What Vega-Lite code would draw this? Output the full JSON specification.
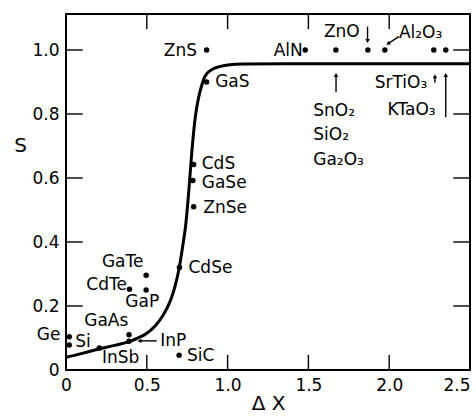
{
  "$schema": "https://vega.github.io/schema/vega-lite/v6.json",
  "width": 404,
  "height": 356,
  "autosize": {"type": "none"},
  "padding": {"left": 66, "top": 14, "right": 6, "bottom": 48},
  "background": "white",
  "config": {
    "view": {"stroke": "black", "strokeWidth": 2},
    "font": "DejaVu Sans",
    "axis": {
      "domain": false, "grid": false, "ticks": false,
      "labelPadding": 7, "labelFont": "DejaVu Sans", "labelFontSize": 17, "labelColor": "black",
      "labelFlush": false, "labelOverlap": false,
      "titleFont": "DejaVu Sans", "titleFontSize": 20, "titleFontWeight": "normal", "titleColor": "black"
    },
    "text": {"font": "DejaVu Sans", "fontSize": 17, "color": "black", "baseline": "middle"}
  },
  "datasets": {
    "curve": [
      {"dX": 0.0, "S": 0.040}, {"dX": 0.1, "S": 0.052}, {"dX": 0.2, "S": 0.065}, {"dX": 0.3, "S": 0.077},
      {"dX": 0.4, "S": 0.090}, {"dX": 0.45, "S": 0.101}, {"dX": 0.5, "S": 0.115}, {"dX": 0.55, "S": 0.137},
      {"dX": 0.6, "S": 0.170}, {"dX": 0.65, "S": 0.222}, {"dX": 0.675, "S": 0.262}, {"dX": 0.70, "S": 0.318},
      {"dX": 0.72, "S": 0.38}, {"dX": 0.74, "S": 0.45}, {"dX": 0.76, "S": 0.56}, {"dX": 0.78, "S": 0.69},
      {"dX": 0.80, "S": 0.79}, {"dX": 0.82, "S": 0.85}, {"dX": 0.84, "S": 0.89}, {"dX": 0.86, "S": 0.918},
      {"dX": 0.90, "S": 0.938}, {"dX": 0.95, "S": 0.948}, {"dX": 1.0, "S": 0.953}, {"dX": 1.1, "S": 0.956},
      {"dX": 1.5, "S": 0.957}, {"dX": 2.5, "S": 0.957}
    ],
    "compounds": [
      {"name": "Ge", "dX": 0.02, "S": 0.104}, {"name": "Si", "dX": 0.02, "S": 0.078},
      {"name": "InSb", "dX": 0.206, "S": 0.069}, {"name": "GaAs", "dX": 0.39, "S": 0.11},
      {"name": "InP", "dX": 0.39, "S": 0.09}, {"name": "CdTe", "dX": 0.393, "S": 0.252},
      {"name": "GaTe", "dX": 0.496, "S": 0.296}, {"name": "GaP", "dX": 0.496, "S": 0.25},
      {"name": "CdSe", "dX": 0.702, "S": 0.32}, {"name": "SiC", "dX": 0.70, "S": 0.046},
      {"name": "ZnSe", "dX": 0.79, "S": 0.51}, {"name": "GaSe", "dX": 0.785, "S": 0.592},
      {"name": "CdS", "dX": 0.79, "S": 0.642}, {"name": "GaS", "dX": 0.87, "S": 0.90},
      {"name": "ZnS", "dX": 0.87, "S": 1.0}, {"name": "AlN", "dX": 1.48, "S": 1.0},
      {"name": "SnO₂, SiO₂, Ga₂O₃", "dX": 1.67, "S": 1.0}, {"name": "ZnO", "dX": 1.868, "S": 1.0},
      {"name": "Al₂O₃", "dX": 1.973, "S": 1.0}, {"name": "SrTiO₃", "dX": 2.276, "S": 1.0},
      {"name": "KTaO₃", "dX": 2.35, "S": 1.0}
    ],
    "labelsEnd": [
      {"label": "ZnS", "dX": 0.811, "S": 0.997}, {"label": "AlN", "dX": 1.465, "S": 0.997},
      {"label": "CdTe", "dX": 0.377, "S": 0.266}, {"label": "Ge", "dX": -0.035, "S": 0.109}
    ],
    "labelsStart": [
      {"label": "GaS", "dX": 0.923, "S": 0.90}, {"label": "CdS", "dX": 0.84, "S": 0.643},
      {"label": "GaSe", "dX": 0.84, "S": 0.585}, {"label": "ZnSe", "dX": 0.85, "S": 0.505},
      {"label": "CdSe", "dX": 0.758, "S": 0.318}, {"label": "SiC", "dX": 0.748, "S": 0.044},
      {"label": "InP", "dX": 0.583, "S": 0.092}, {"label": "InSb", "dX": 0.222, "S": 0.037},
      {"label": "GaAs", "dX": 0.113, "S": 0.153}, {"label": "GaP", "dX": 0.367, "S": 0.212},
      {"label": "GaTe", "dX": 0.222, "S": 0.338}, {"label": "Si", "dX": 0.057, "S": 0.088},
      {"label": "ZnO", "dX": 1.596, "S": 1.057}, {"label": "Al₂O₃", "dX": 2.06, "S": 1.053},
      {"label": "SnO₂", "dX": 1.53, "S": 0.81}, {"label": "SiO₂", "dX": 1.53, "S": 0.734},
      {"label": "Ga₂O₃", "dX": 1.53, "S": 0.656}, {"label": "SrTiO₃", "dX": 1.91, "S": 0.896},
      {"label": "KTaO₃", "dX": 1.99, "S": 0.812}
    ],
    "segments": [
      {"for": "ZnO", "x1": 1.866, "y1": 1.073, "x2": 1.866, "y2": 1.028, "dir": "down"},
      {"for": "Al2O3", "x1": 2.06, "y1": 1.042, "x2": 1.993, "y2": 1.02, "dir": "downleft"},
      {"for": "SnO2", "x1": 1.671, "y1": 0.869, "x2": 1.671, "y2": 0.922, "dir": "up"},
      {"for": "SrTiO3", "x1": 2.283, "y1": 0.898, "x2": 2.283, "y2": 0.918, "dir": "up"},
      {"for": "KTaO3", "x1": 2.35, "y1": 0.79, "x2": 2.35, "y2": 0.922, "dir": "up"},
      {"for": "InP", "x1": 0.562, "y1": 0.091, "x2": 0.455, "y2": 0.091, "dir": "left"},
      {"for": "tick", "x1": 0.5, "y1": 0.001, "x2": 0.5, "y2": 0.047, "dir": "none"},
      {"for": "tick", "x1": 1.0, "y1": 0.001, "x2": 1.0, "y2": 0.047, "dir": "none"},
      {"for": "tick", "x1": 1.5, "y1": 0.001, "x2": 1.5, "y2": 0.047, "dir": "none"},
      {"for": "tick", "x1": 2.0, "y1": 0.001, "x2": 2.0, "y2": 0.047, "dir": "none"},
      {"for": "tick", "x1": 0.5, "y1": 1.111, "x2": 0.5, "y2": 1.0655, "dir": "none"},
      {"for": "tick", "x1": 1.0, "y1": 1.111, "x2": 1.0, "y2": 1.0655, "dir": "none"},
      {"for": "tick", "x1": 1.5, "y1": 1.111, "x2": 1.5, "y2": 1.0655, "dir": "none"},
      {"for": "tick", "x1": 2.0, "y1": 1.111, "x2": 2.0, "y2": 1.0655, "dir": "none"},
      {"for": "tick", "x1": 0.001, "y1": 0.2, "x2": 0.104, "y2": 0.2, "dir": "none"},
      {"for": "tick", "x1": 0.001, "y1": 0.4, "x2": 0.104, "y2": 0.4, "dir": "none"},
      {"for": "tick", "x1": 0.001, "y1": 0.6, "x2": 0.104, "y2": 0.6, "dir": "none"},
      {"for": "tick", "x1": 0.001, "y1": 0.8, "x2": 0.104, "y2": 0.8, "dir": "none"},
      {"for": "tick", "x1": 0.001, "y1": 1.0, "x2": 0.104, "y2": 1.0, "dir": "none"},
      {"for": "tick", "x1": 2.396, "y1": 0.2, "x2": 2.499, "y2": 0.2, "dir": "none"},
      {"for": "tick", "x1": 2.396, "y1": 0.4, "x2": 2.499, "y2": 0.4, "dir": "none"},
      {"for": "tick", "x1": 2.396, "y1": 0.6, "x2": 2.499, "y2": 0.6, "dir": "none"},
      {"for": "tick", "x1": 2.396, "y1": 0.8, "x2": 2.499, "y2": 0.8, "dir": "none"},
      {"for": "tick", "x1": 2.396, "y1": 1.0, "x2": 2.499, "y2": 1.0, "dir": "none"}
    ]
  },
  "layer": [
    {
      "data": {"name": "curve"},
      "mark": {"type": "line", "color": "black", "strokeWidth": 3, "interpolate": "monotone"},
      "encoding": {
        "x": {"field": "dX", "type": "quantitative", "scale": {"domain": [0, 2.5], "nice": false, "zero": false},
          "axis": {"orient": "bottom", "values": [0, 0.5, 1, 1.5, 2, 2.5],
            "labelExpr": "datum.value == 0 ? '0' : format(datum.value, '.1f')",
            "labelAlign": {"expr": "datum.value == 2.5 ? 'right' : 'center'"},
            "title": "Δ X", "titleX": 202, "titleY": 33, "titleBaseline": "middle", "titleAlign": "center"}},
        "y": {"field": "S", "type": "quantitative", "scale": {"domain": [0, 1.1125], "nice": false, "zero": false},
          "axis": {"orient": "left", "values": [0, 0.2, 0.4, 0.6, 0.8, 1.0],
            "labelExpr": "datum.value == 0 ? '0' : format(datum.value, '.1f')",
            "title": "S", "titleAngle": 0, "titleX": -46, "titleY": 131, "titleBaseline": "middle", "titleAlign": "center"}}
      }
    },
    {
      "data": {"name": "compounds"},
      "mark": {"type": "circle", "color": "black", "size": 30, "opacity": 1},
      "encoding": {
        "x": {"field": "dX", "type": "quantitative"},
        "y": {"field": "S", "type": "quantitative"}
      }
    },
    {
      "data": {"name": "labelsEnd"},
      "mark": {"type": "text", "align": "right"},
      "encoding": {
        "x": {"field": "dX", "type": "quantitative"},
        "y": {"field": "S", "type": "quantitative"},
        "text": {"field": "label"}
      }
    },
    {
      "data": {"name": "labelsStart"},
      "mark": {"type": "text", "align": "left"},
      "encoding": {
        "x": {"field": "dX", "type": "quantitative"},
        "y": {"field": "S", "type": "quantitative"},
        "text": {"field": "label"}
      }
    },
    {
      "data": {"name": "segments"},
      "mark": {"type": "rule", "color": "black", "strokeWidth": 1.4},
      "encoding": {
        "x": {"field": "x1", "type": "quantitative"},
        "y": {"field": "y1", "type": "quantitative"},
        "x2": {"field": "x2"},
        "y2": {"field": "y2"}
      }
    },
    {
      "data": {"name": "segments"},
      "transform": [{"filter": "datum.dir == 'up'"}],
      "mark": {"type": "point", "shape": "triangle-up", "filled": true, "color": "black", "size": 20, "opacity": 1},
      "encoding": {
        "x": {"field": "x2", "type": "quantitative"},
        "y": {"field": "y2", "type": "quantitative"}
      }
    },
    {
      "data": {"name": "segments"},
      "transform": [{"filter": "datum.dir == 'down'"}],
      "mark": {"type": "point", "shape": "triangle-down", "filled": true, "color": "black", "size": 20, "opacity": 1},
      "encoding": {
        "x": {"field": "x2", "type": "quantitative"},
        "y": {"field": "y2", "type": "quantitative"}
      }
    },
    {
      "data": {"name": "segments"},
      "transform": [{"filter": "datum.dir == 'left'"}],
      "mark": {"type": "point", "shape": "triangle-left", "filled": true, "color": "black", "size": 20, "opacity": 1},
      "encoding": {
        "x": {"field": "x2", "type": "quantitative"},
        "y": {"field": "y2", "type": "quantitative"}
      }
    },
    {
      "data": {"name": "segments"},
      "transform": [{"filter": "datum.dir == 'downleft'"}],
      "mark": {"type": "point", "shape": "triangle-up", "angle": 237, "filled": true, "color": "black", "size": 20, "opacity": 1},
      "encoding": {
        "x": {"field": "x2", "type": "quantitative"},
        "y": {"field": "y2", "type": "quantitative"}
      }
    }
  ]
}
